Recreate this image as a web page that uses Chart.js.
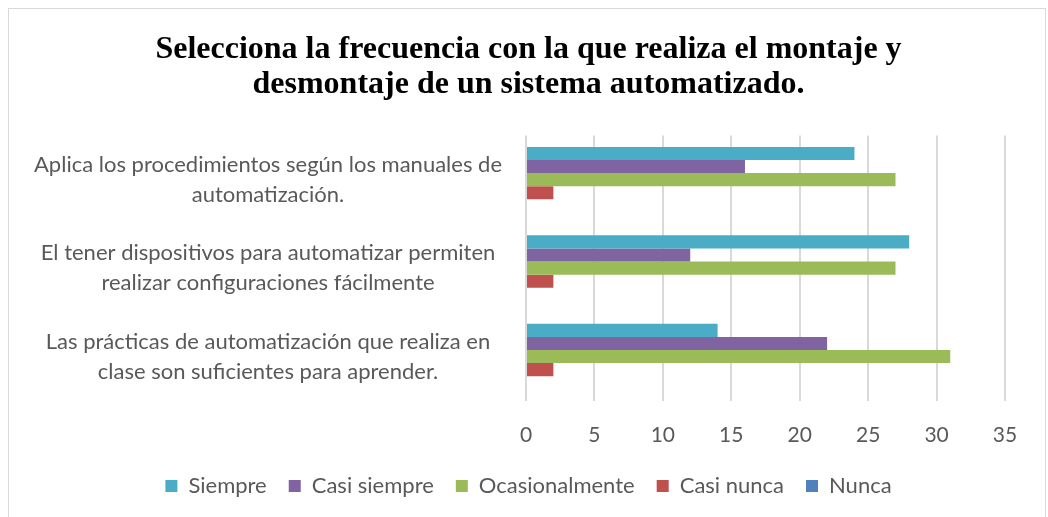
<!DOCTYPE html>
<html>
<head>
<meta charset="utf-8">
<script src="https://cdn.jsdelivr.net/npm/chart.js@4/dist/chart.umd.min.js"></script>
<style>
  html, body { margin: 0; padding: 0; background: #fff; }
  #wrap { position: relative; width: 1048px; height: 517px; overflow: hidden; }
  #frame { position: absolute; left: 8px; top: 8px; width: 1036px; height: 530px; border: 1.5px solid #d9d9d9; }
  canvas { position: absolute; left: 0; top: 0; }
</style>
</head>
<body>
<div id="wrap">
  <div id="frame"></div>
  <canvas id="chart" width="1048" height="517"></canvas>
</div>
<script>
// Categories (top to bottom)
const categories = [
    ['Aplica los procedimientos según los manuales de', 'automatización.'],
    ['El tener dispositivos para automatizar permiten', 'realizar configuraciones fácilmente'],
    ['Las prácticas de automatización que realiza en', 'clase son suficientes para aprender.']
];

// Series values
const siempre = [24, 28, 14];
const casiSiempre = [16, 12, 22];
const ocasionalmente = [27, 27, 31];
const casiNunca = [2, 2, 2];
const nunca = [0, 0, 0];

// Axis
const xMax = 35;
const xStep = 5;

const textColor = '#595959';
const bodyFont = 'Lato, "Open Sans", sans-serif';

// let the long category labels spill into the left padding instead of being clipped
const widenLabels = {
    id: 'widenLabels',
    afterLayout(chart) {
        chart.scales.y.left = 10;
    }
};

const ctx = document.getElementById('chart').getContext('2d');
const chart = new Chart(ctx, {
    type: 'bar',
    data: {
        labels: categories,
        datasets: [
            { label: 'Siempre', data: siempre, backgroundColor: '#4bacc6' },
            { label: 'Casi siempre', data: casiSiempre, backgroundColor: '#8064a2' },
            { label: 'Ocasionalmente', data: ocasionalmente, backgroundColor: '#9bbb59' },
            { label: 'Casi nunca', data: casiNunca, backgroundColor: '#c0504d' },
            { label: 'Nunca', data: nunca, backgroundColor: '#4f81bd' }
        ]
    },
    options: {
        indexAxis: 'y',
        responsive: false,
        animation: false,
        datasets: {
            bar: { categoryPercentage: 0.74, barPercentage: 1.0, borderWidth: 0 }
        },
        layout: { padding: { left: 52, right: 43, top: 22, bottom: 10 } },
        scales: {
            x: {
                min: 0,
                max: xMax,
                ticks: {
                    stepSize: xStep,
                    color: textColor,
                    font: { family: bodyFont, size: 21 },
                    padding: 22
                },
                grid: { color: '#d9d9d9', lineWidth: 2, drawTicks: false },
                border: { display: false },
                afterFit: function(scale) { scale.height -= 17; }
            },
            y: {
                ticks: {
                    color: textColor,
                    font: { family: bodyFont, size: 22, lineHeight: 1.36 },
                    padding: 16,
                    crossAlign: 'center'
                },
                grid: { display: false },
                border: { display: false },
                afterFit: function(scale) { scale.width = 474; }
            }
        },
        plugins: {
            title: {
                display: true,
                text: ['Selecciona la frecuencia con la que realiza el montaje y', 'desmontaje de un sistema automatizado.'],
                color: '#000',
                font: { family: '"Liberation Serif", "Times New Roman", serif', size: 32, weight: 'bold', lineHeight: 1.1 },
                padding: { top: 10, bottom: 33 }
            },
            legend: {
                position: 'bottom',
                labels: {
                    color: textColor,
                    font: { family: bodyFont, size: 22 },
                    boxWidth: 12,
                    boxHeight: 12,
                    padding: 22
                }
            },
            tooltip: { enabled: false }
        }
    },
    plugins: [widenLabels]
});
</script>
</body>
</html>
